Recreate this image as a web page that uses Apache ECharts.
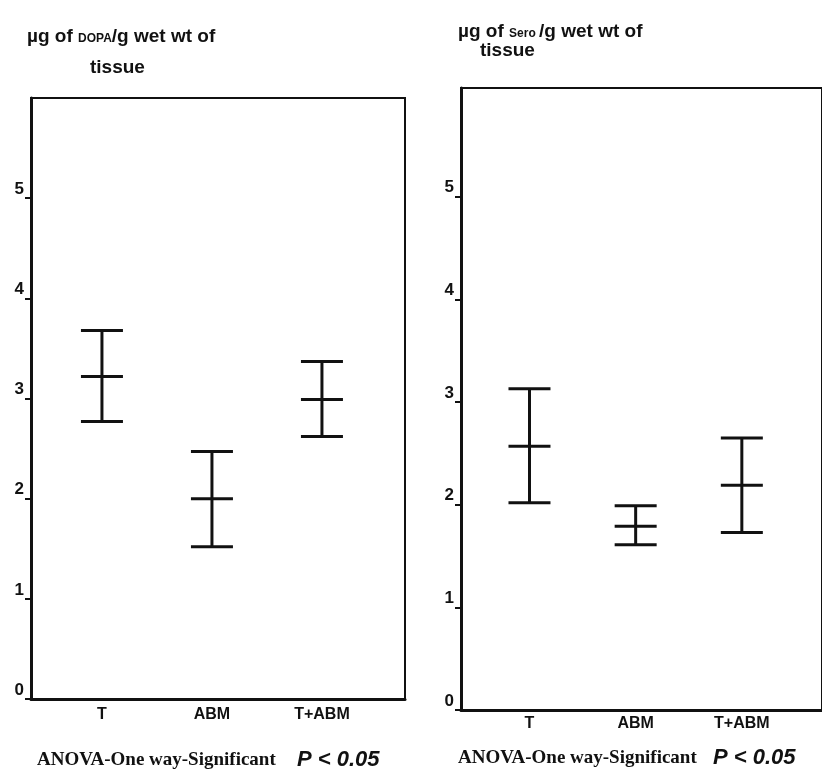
<!DOCTYPE html>
<html>
<head>
<meta charset="utf-8">
<script src="https://cdn.jsdelivr.net/npm/echarts@6/dist/echarts.min.js"></script>
<style>
  html, body { margin: 0; padding: 0; background: #fff; }
  #main { width: 822px; height: 783px; }
</style>
</head>
<body>
<div id="main"></div>
<script>
// groups on the x axis
var groups = ['T', 'ABM', 'T+ABM'];

// y tick labels (no label at the top edge, 6)
var yTicks = [0, 1, 2, 3, 4, 5];

// DOPA (left panel): mean with lower / upper bar ends
var dopaMean = [3.22, 2.00, 2.99];
var dopaLow = [2.77, 1.52, 2.62];
var dopaHigh = [3.68, 2.47, 3.37];

// Serotonin (right panel)
var seroMean = [2.57, 1.79, 2.19];
var seroLow = [2.02, 1.61, 1.73];
var seroHigh = [3.13, 1.99, 2.65];

var noteText = 'ANOVA-One way-Significant';
var noteP = 'P < 0.05';

var ink = '#111';
var sans = '"Liberation Sans", Arial, sans-serif';
var serif = '"Liberation Serif", "Times New Roman", serif';

function toRows(low, mean, high) {
    var rows = [];
    for (var i = 0; i < groups.length; i++) {
        rows.push([i + 1, low[i], mean[i], high[i]]);
    }
    return rows;
}

function renderBar(params, api) {
    var x = api.value(0);
    var lo = api.coord([x, api.value(1)]);
    var mid = api.coord([x, api.value(2)]);
    var hi = api.coord([x, api.value(3)]);
    var hw = 21;
    var st = { stroke: ink, lineWidth: 3, fill: null };
    return {
        type: 'group',
        children: [
            { type: 'line', shape: { x1: hi[0], y1: hi[1], x2: lo[0], y2: lo[1] }, style: st },
            { type: 'line', shape: { x1: hi[0] - hw, y1: hi[1], x2: hi[0] + hw, y2: hi[1] }, style: st },
            { type: 'line', shape: { x1: mid[0] - hw, y1: mid[1], x2: mid[0] + hw, y2: mid[1] }, style: st },
            { type: 'line', shape: { x1: lo[0] - hw, y1: lo[1], x2: lo[0] + hw, y2: lo[1] }, style: st }
        ]
    };
}

function xAxisFor(idx) {
    return {
        type: 'value',
        gridIndex: idx,
        min: 0.355,
        max: 3.755,
        splitLine: { show: false },
        axisTick: { show: false },
        axisLine: { show: true, onZero: false, lineStyle: { color: ink, width: 3 } },
        axisLabel: {
            customValues: [1, 2, 3],
            formatter: function (v) { return groups[Math.round(v) - 1] || ''; },
            color: ink,
            fontFamily: sans,
            fontWeight: 'bold',
            fontSize: 16,
            margin: idx === 0 ? 8 : 6
        }
    };
}

function yAxisFor(idx, max) {
    return {
        type: 'value',
        gridIndex: idx,
        min: 0,
        max: max,
        interval: 1,
        splitLine: { show: false },
        axisLine: { show: true, lineStyle: { color: ink, width: 3 } },
        axisTick: { show: true, inside: false, length: 6, customValues: yTicks, lineStyle: { color: ink, width: 2 } },
        axisLabel: {
            customValues: yTicks,
            color: ink,
            fontFamily: sans,
            fontWeight: 'bold',
            fontSize: 17,
            margin: 7,
            verticalAlign: 'bottom',
            lineHeight: 18
        }
    };
}

var titleRich = {
    a: { fontSize: 19, lineHeight: 22, fontWeight: 'bold', fontFamily: sans, fill: ink, verticalAlign: 'bottom' },
    b: { fontSize: 12, lineHeight: 22, fontWeight: 'bold', fontFamily: sans, fill: ink, verticalAlign: 'bottom', padding: [0, 0, 1, 0] }
};

var option = {
    backgroundColor: '#fff',
    animation: false,
    grid: [
        { left: 31, top: 98, width: 374, height: 601, show: true, borderColor: ink, borderWidth: 2 },
        { left: 461, top: 88, width: 370, height: 622, show: true, borderColor: ink, borderWidth: 2 }
    ],
    xAxis: [xAxisFor(0), xAxisFor(1)],
    yAxis: [yAxisFor(0, 6), yAxisFor(1, 6.06)],
    series: [
        {
            type: 'custom',
            xAxisIndex: 0,
            yAxisIndex: 0,
            renderItem: renderBar,
            encode: { x: 0, y: [1, 2, 3] },
            data: toRows(dopaLow, dopaMean, dopaHigh)
        },
        {
            type: 'custom',
            xAxisIndex: 1,
            yAxisIndex: 1,
            renderItem: renderBar,
            encode: { x: 0, y: [1, 2, 3] },
            data: toRows(seroLow, seroMean, seroHigh)
        }
    ],
    graphic: [
        // left axis name
        {
            type: 'text', x: 27, y: 35,
            style: { text: '{a|µg of }{b|DOPA}{a|/g wet wt of}', verticalAlign: 'middle', rich: titleRich }
        },
        {
            type: 'text', x: 90, y: 68,
            style: { text: 'tissue', fontSize: 19, fontWeight: 'bold', fontFamily: sans, fill: ink, verticalAlign: 'middle' }
        },
        // right axis name
        {
            type: 'text', x: 458, y: 30,
            style: { text: '{a|µg of }{b|Sero }{a|/g wet wt of}', verticalAlign: 'middle', rich: titleRich }
        },
        {
            type: 'text', x: 480, y: 51,
            style: { text: 'tissue', fontSize: 19, fontWeight: 'bold', fontFamily: sans, fill: ink, verticalAlign: 'middle' }
        },
        // notes under the panels
        {
            type: 'text', x: 37, y: 760,
            style: { text: noteText, fontSize: 19, fontWeight: 'bold', fontFamily: serif, fill: ink, verticalAlign: 'middle' }
        },
        {
            type: 'text', x: 297, y: 760,
            style: { text: noteP, fontSize: 22, fontWeight: 'bold', fontStyle: 'italic', fontFamily: sans, fill: ink, verticalAlign: 'middle' }
        },
        {
            type: 'text', x: 458, y: 758,
            style: { text: noteText, fontSize: 19, fontWeight: 'bold', fontFamily: serif, fill: ink, verticalAlign: 'middle' }
        },
        {
            type: 'text', x: 713, y: 758,
            style: { text: noteP, fontSize: 22, fontWeight: 'bold', fontStyle: 'italic', fontFamily: sans, fill: ink, verticalAlign: 'middle' }
        }
    ]
};

var myChart = echarts.init(document.getElementById('main'));
myChart.setOption(option);
</script>
</body>
</html>
